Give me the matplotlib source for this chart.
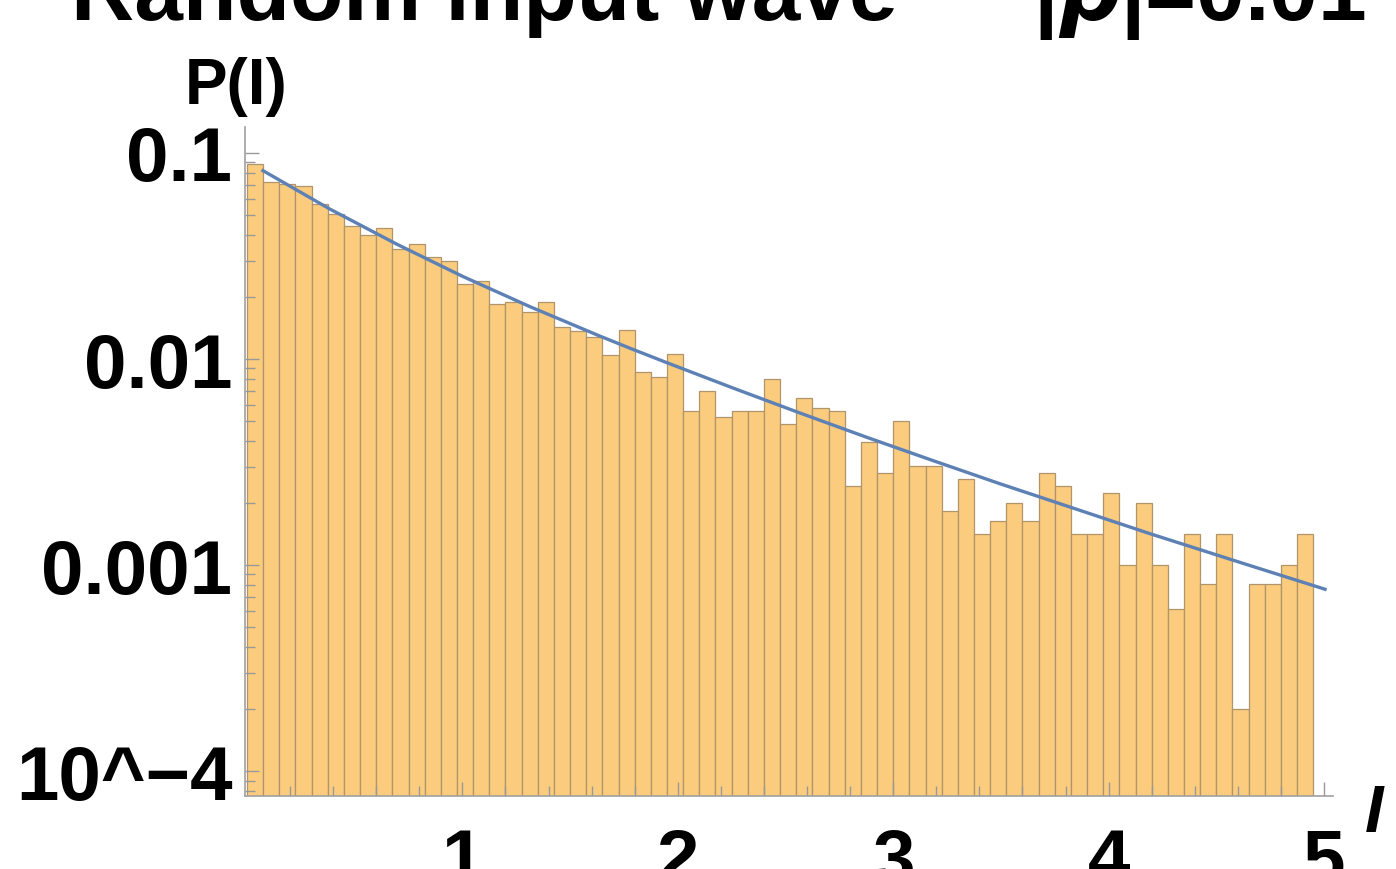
import numpy as np
import matplotlib.pyplot as plt

# histogram of intensity I (bin width 0.075), density values
bin_width = 0.075
density = [0.0884, 0.0721, 0.0707, 0.0694, 0.0565, 0.0506, 0.0444, 0.0400, 0.0431, 0.0342,
           0.0362, 0.0314, 0.0298, 0.0231, 0.0240, 0.0185, 0.0190, 0.0170, 0.0190, 0.01435,
           0.01372, 0.01279, 0.01046, 0.0139, 0.00862, 0.00818, 0.01057, 0.00561, 0.00702, 0.00521,
           0.00559, 0.00559, 0.00800, 0.00482, 0.00646, 0.00580, 0.00561, 0.00243, 0.00396, 0.00280,
           0.00502, 0.00303, 0.00303, 0.00182, 0.00262, 0.00141, 0.00163, 0.00199, 0.00163, 0.00280,
           0.00241, 0.00141, 0.00141, 0.00223, 0.00100, 0.00199, 0.00100, 0.00061, 0.00141, 0.00081,
           0.00141, 0.00020, 0.00081, 0.00081, 0.00100, 0.00141]

# theoretical curve P(I)
curve_I = [0.074, 0.385, 0.695, 1.004, 1.314, 1.639, 1.778, 1.949, 2.258, 2.567,
           2.877, 3.186, 3.496, 3.728, 4.192, 4.657, 5.005]
curve_P = [0.0821, 0.0534, 0.0361, 0.0251, 0.01794, 0.01291, 0.01128, 0.00960, 0.00722, 0.00547,
           0.00417, 0.00321, 0.00248, 0.00206, 0.00142, 0.000994, 0.000763]

x_ticks = [1, 2, 3, 4, 5]
y_ticks = [1e-4, 1e-3, 1e-2, 1e-1]
y_tick_labels = ['10^\u22124', '0.001', '0.01', '0.1']

plt.rcParams['font.family'] = ['Liberation Sans', 'DejaVu Sans']
plt.rcParams['font.weight'] = 'bold'

fig = plt.figure(figsize=(13.96, 8.70), dpi=100)
ax = fig.add_axes([0.1755, 0.0839, 0.7794, 0.7690])

edges = np.arange(len(density)) * bin_width
ax.bar(edges, np.array(density) - 1e-6, width=bin_width, bottom=1e-6, align='edge',
       color='#FBCC7E', edgecolor='#B0946A', linewidth=0.9)
ax.plot(curve_I, curve_P, color='#5E81B5', linewidth=2.4, zorder=3)

ax.set_yscale('log')
ax.set_xlim(-0.0093, 5.042)
ax.set_ylim(7.57e-5, 0.1337)

ax.set_xticks(x_ticks)
ax.set_xticks(np.arange(0.2, 5.01, 0.2), minor=True)
ax.set_yticks(y_ticks)
ax.set_yticklabels(y_tick_labels)

for side in ['top', 'right']:
    ax.spines[side].set_visible(False)
for side in ['left', 'bottom']:
    ax.spines[side].set_color('#A0A0A0')
    ax.spines[side].set_linewidth(1.2)

ax.tick_params(axis='both', which='both', direction='in', color='#999999', width=1.0)
ax.tick_params(axis='both', which='major', length=10, labelsize=55)
ax.tick_params(axis='both', which='minor', length=7)
ax.tick_params(axis='x', which='major', pad=22)
ax.tick_params(axis='y', which='major', pad=9)

# axis labels placed like the original
fig.text(185 / 1396, 1 - 104 / 870, 'P(I)', fontsize=46, fontweight='bold', ha='left', va='baseline')
fig.text(1365 / 1396, 1 - 832 / 870, 'I', fontsize=48, fontstyle='italic', fontweight='bold',
         ha='left', va='baseline')

# title (cut off by the top of the image)
fig.text(71 / 1396, 1 - 20 / 870, 'Random input wave', fontsize=63, fontweight='bold',
         ha='left', va='baseline')
fig.text(1033 / 1396, 1 - 20 / 870, r'|$\rho$|=0.01', fontsize=63, fontweight='bold',
         ha='left', va='baseline')

fig.savefig('out.png', dpi=100)
